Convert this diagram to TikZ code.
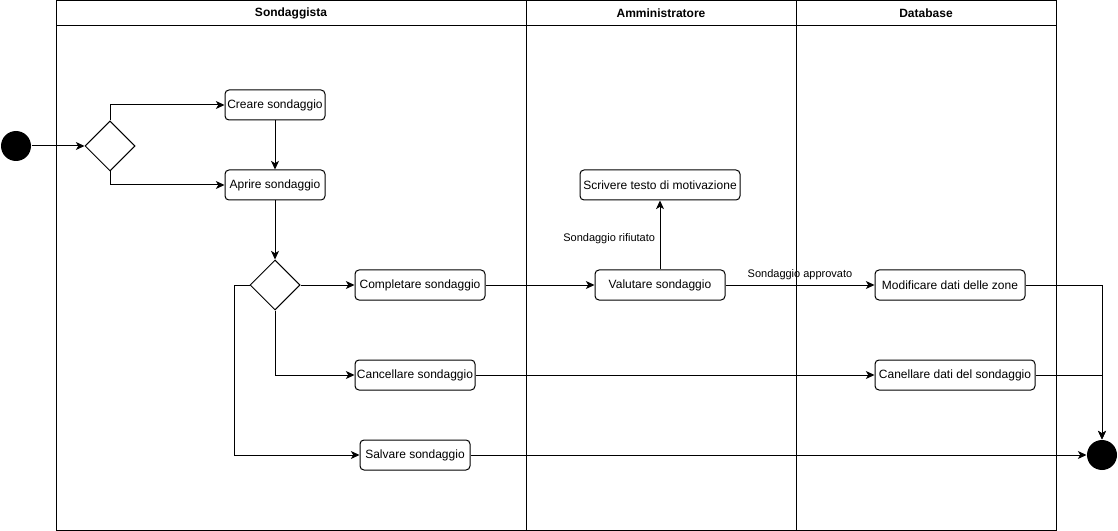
\documentclass[tikz,border=0pt]{standalone}
\usepackage{fontspec}
\setmainfont{Liberation Sans}
\usetikzlibrary{shapes.geometric, arrows.meta}
\tikzset{
  block/.style={
    rectangle,
    draw,
    draw=black,
    rounded corners=3pt,
    minimum height=22.5pt,
    inner sep=1pt,
    font=\fontsize{9}{10}\selectfont
  },
  choice/.style={
    diamond,
    draw,
    aspect=1,
    minimum width=37.5pt,
    minimum height=37.5pt,
    inner sep=0pt
  },
  dot/.style={
    circle,
    fill=black,
    minimum size=22.5pt,
    inner sep=0pt
  },
  lane/.style={
    font=\bfseries\fontsize{9}{10}\selectfont
  }
}
\tikzstyle{arrow} = [-{Stealth[length=6.5pt, width=6pt, inset=1.8pt]}, line width=0.75pt]
\def\cond#1{\fontsize{8.25}{9}\selectfont #1}

\begin{document}
\begin{tikzpicture}[x=0.75pt, y=-0.75pt, line width=0.75pt]
    \useasboundingbox (0,0) rectangle (1118,531);
    \draw (56,1) rectangle (1056,530);
    \draw (56,26) -- (1056,26);
    \draw (526,1) -- (526,530);
    \draw (796,1) -- (796,530);
    \node[lane] (h1) at (291,13) {Sondaggista};
    \node[lane] (h2) at (661,13) {Amministratore};
    \node[lane] (h3) at (926,13) {Database};
    \node[dot] (start) at (16,146) {};
    \node[choice] (d1) at (110,146) {};
    \node[block, minimum width=75pt] (creare) at (275,105) {Creare sondaggio};
    \node[block, minimum width=75pt] (aprire) at (275,185) {Aprire sondaggio};
    \node[choice] (d2) at (275,285) {};
    \node[block, minimum width=97.5pt] (completare) at (420,285) {Completare sondaggio};
    \node[block, minimum width=90pt] (cancellare) at (415,375) {Cancellare sondaggio};
    \node[block, minimum width=82.5pt] (salvare) at (415,455) {Salvare sondaggio};
    \node[block, minimum width=97.5pt] (valutare) at (660,285) {Valutare sondaggio};
    \node[block, minimum width=120pt] (scrivere) at (660,185) {Scrivere testo di motivazione};
    \node[block, minimum width=112.5pt] (modificare) at (950,285) {Modificare dati delle zone};
    \node[block, minimum width=120pt] (canellare) at (955,375) {Canellare dati del sondaggio};
    \node[dot] (end) at (1102,455) {};
    \draw[arrow] (start) -- (d1);
    \draw[arrow] (d1.north) |- (creare.west);
    \draw[arrow] (d1.south) |- (aprire.west);
    \draw[arrow] (creare) -- (aprire);
    \draw[arrow] (aprire) -- (d2);
    \draw[arrow] (d2) -- (completare);
    \draw[arrow] (d2.south) |- (cancellare.west);
    \draw[arrow] (d2.west) -- ++(-15,0) |- (salvare.west);
    \draw[arrow] (completare) -- (valutare);
    \draw[arrow] (valutare) -- node [left, pos=0.45] {\cond{Sondaggio rifiutato}} (scrivere);
    \draw[arrow] (valutare) -- node [above, pos=0.5] {\cond{Sondaggio approvato}} (modificare);
    \draw[arrow] (modificare.east) -| (end.north);
    \draw[arrow] (canellare.east) -| (end.north);
    \draw[arrow] (cancellare) -- (canellare);
    \draw[arrow] (salvare) -- (end);
\end{tikzpicture}
\end{document}
